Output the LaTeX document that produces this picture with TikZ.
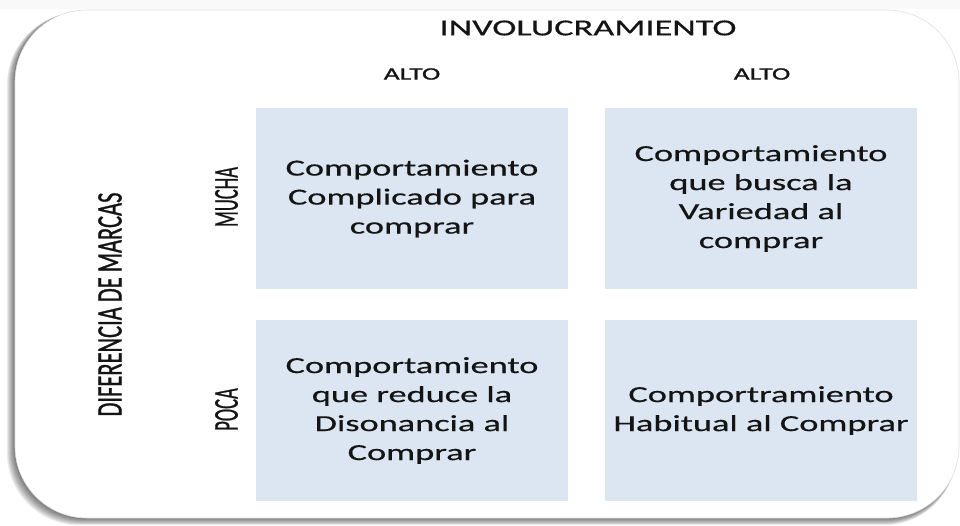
\documentclass[tikz,border=0pt]{standalone}
\usepackage{fontspec}
\setmainfont{Carlito}
\newfontfamily\boxfont[FakeStretch=1.58,FakeBold=0.5]{Carlito}
\newfontfamily\altofont[FakeStretch=1.58,FakeBold=1.2]{Carlito}
\newfontfamily\rotfont[FakeStretch=0.625,FakeBold=0.8]{Carlito}
\newfontfamily\rotfontn[FakeStretch=0.53,FakeBold=0.6]{Carlito}
\definecolor{boxblue}{RGB}{220,230,242}
\definecolor{textdark}{RGB}{20,20,20}
\tikzset{
  cell/.style={fill=boxblue, minimum width=312pt, minimum height=181pt, inner sep=0pt,
    align=center, text=textdark, font=\boxfont\fontsize{23}{29}\selectfont},
  headlbl/.style={text=textdark, inner sep=0pt, font=\boxfont\fontsize{23}{28}\selectfont},
  colllbl/.style={text=textdark, inner sep=0pt, font=\altofont\fontsize{17.5}{20}\selectfont},
  sidelbl/.style={text=textdark, inner sep=0pt, rotate=90, font=\rotfont\fontsize{36}{40}\selectfont},
  rowlbl/.style={text=textdark, inner sep=0pt, rotate=90, font=\rotfontn\fontsize{35}{40}\selectfont},
  frameshadow/.style={fill=black, opacity=0.07, rounded corners=72pt}
}
\begin{document}
\begin{tikzpicture}[x=1pt,y=-1pt]
\useasboundingbox (0,0) rectangle (960,526);
\fill[white] (0,0) rectangle (960,526);
\fill[gray!5] (0,0) rectangle (960,9);
% frame shadow
\foreach \i in {1,...,9}{
  \fill[frameshadow] ({15-0.9*\i},{10+0.3*\i}) rectangle ({958-0.2*\i},{518+0.8*\i});
}
\fill[white, draw=gray!25, line width=0.6pt, rounded corners=72pt] (15,10) rectangle (959,518);

% header labels
\node[headlbl] (inv) at (588,28) {INVOLUCRAMIENTO};
\node[colllbl] (alto1) at (412,74) {ALTO};
\node[colllbl] (alto2) at (762,74) {ALTO};

% side labels
\node[sidelbl] (dif) at (110,304.5) {DIFERENCIA DE MARCAS};
\node[rowlbl] (mucha) at (226.5,197) {MUCHA};
\node[rowlbl] (poca) at (226.5,409.5) {POCA};

% quadrants
\node[cell] (tl) at (412,198.5) {Comportamiento\\Complicado para\\comprar};
\node[cell] (tr) at (761,198.5) {Comportamiento\\que busca la\\Variedad al\\comprar};
\node[cell] (bl) at (412,410.5) {Comportamiento\\que reduce la\\Disonancia al\\Comprar};
\node[cell] (br) at (761,410.5) {Comportramiento\\Habitual al Comprar};
\end{tikzpicture}
\end{document}
